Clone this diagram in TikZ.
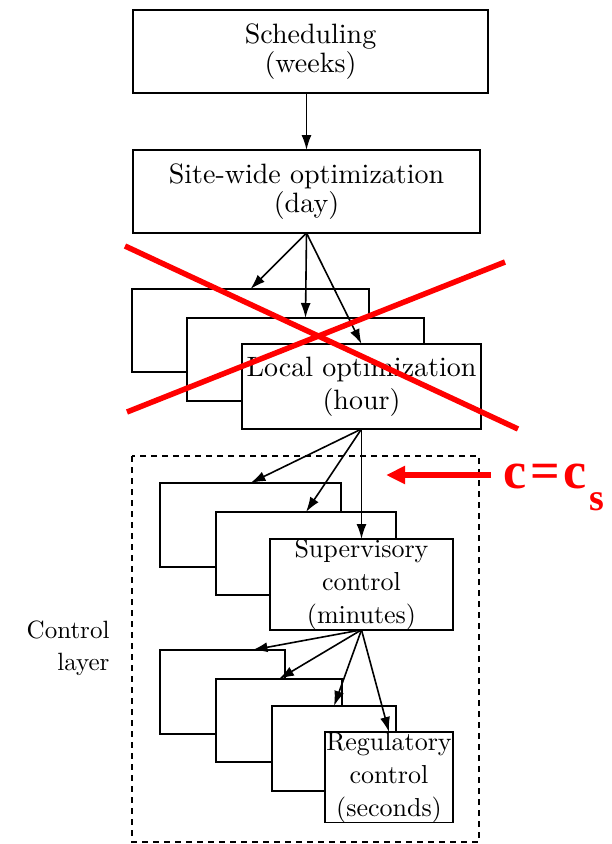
\documentclass[tikz,border=0pt]{standalone}
\usepackage{fontspec}
\setmainfont{lmroman10-regular}[Extension=.otf]
\newfontfamily\redfont{LiberationSerif}[Extension=.ttf, UprightFont=*-Regular, BoldFont=*-Bold]
\usetikzlibrary{calc, arrows.meta}

\begin{document}
\begin{tikzpicture}[x=1pt, y=-1pt,
    box/.style={draw=borderColour, fill=white, line width=1.6pt, inner sep=0pt, outer sep=0pt, anchor=north west, align=center},
    bigtext/.style={font=\fontsize{28}{29}\selectfont},
    midtext/.style={font=\fontsize{28}{33}\selectfont},
    smalltext/.style={font=\fontsize{26}{33}\selectfont},
    link/.style={draw=borderColour, line width=1.6pt, -{Latex[length=15pt,width=10pt]}}]
    % Define colors
    \definecolor{borderColour}{HTML}{000000}
    \definecolor{crossColour}{HTML}{FF0000}

    % Fix the page size
    \useasboundingbox (0,0) rectangle (612,844);

    % Draw the control layer frame
    \draw[borderColour, line width=1.6pt, dash pattern=on 6pt off 5pt] (132,456) rectangle (479,842);
    \node[font=\fontsize{25}{32}\selectfont, align=right, anchor=east] (ctrllabel) at (113,648) {Control\\layer};

    % Draw the top boxes
    \node[box, bigtext, minimum width=355pt, minimum height=83pt] (sched) at (133,10) {Scheduling\\(weeks)};
    \node[box, bigtext, minimum width=347pt, minimum height=83pt] (site) at (133,150) {Site-wide optimization\\(day)};

    % Draw the local optimization stack
    \node[box, minimum width=237pt, minimum height=83pt] (loca) at (132,289) {};
    \node[box, minimum width=237pt, minimum height=83pt] (locb) at (187,318) {};
    \node[box, midtext, minimum width=239pt, minimum height=85pt] (locc) at (242,344) {Local optimization\\(hour)};

    % Draw the supervisory stack
    \node[box, minimum width=181pt, minimum height=84pt] (supa) at (160,483) {};
    \node[box, minimum width=180pt, minimum height=83pt] (supb) at (216,512) {};
    \node[box, smalltext, minimum width=183pt, minimum height=84pt] (supc) at (270,539) {Supervisory\\control\\(minutes)};

    % Draw the regulatory stack
    \node[box, minimum width=125pt, minimum height=84pt] (rega) at (160,650) {};
    \node[box, minimum width=126pt, minimum height=83pt] (regb) at (216,679) {};
    \node[box, minimum width=124pt, minimum height=85pt] (regc) at (272,706) {};
    \node[box, smalltext, minimum width=128pt, minimum height=87pt] (regd) at (325,732) {Regulatory\\control\\(seconds)};

    % Draw the arrows between layers
    \draw[link] (site.north |- sched.south) -- (site.north);
    \foreach \target in {loca, locb, locc}
        \draw[link] (site.south) -- (\target.north);
    \foreach \target in {supa, supb, supc}
        \draw[link] (locc.south) -- (\target.north);
    \draw[link] (supc.south) -- ($(rega.north west)!.74!(rega.north east)$);
    \foreach \target in {regb, regc, regd}
        \draw[link] (supc.south) -- (\target.north);

    % Cross out the local optimization layer
    \draw[crossColour, line width=5.5pt] (125,246) -- (518,429);
    \draw[crossColour, line width=5.5pt] (127,412) -- (505,262);

    % Label the new setpoint
    \node[anchor=base west, inner sep=0pt, text=crossColour] (setpoint) at (503,488) {\redfont\bfseries\fontsize{52}{52}\selectfont c\kern4pt=\kern4pt c\kern3pt\raisebox{-22pt}{\fontsize{38}{38}\selectfont s}};
    \coordinate (arrowStart) at (491,475);
    \coordinate (arrowTip) at (386,475);
    \draw[crossColour, line width=6pt, -{Triangle[length=19pt,width=17pt]}] (arrowStart) -- (arrowTip);

\end{tikzpicture}
\end{document}
